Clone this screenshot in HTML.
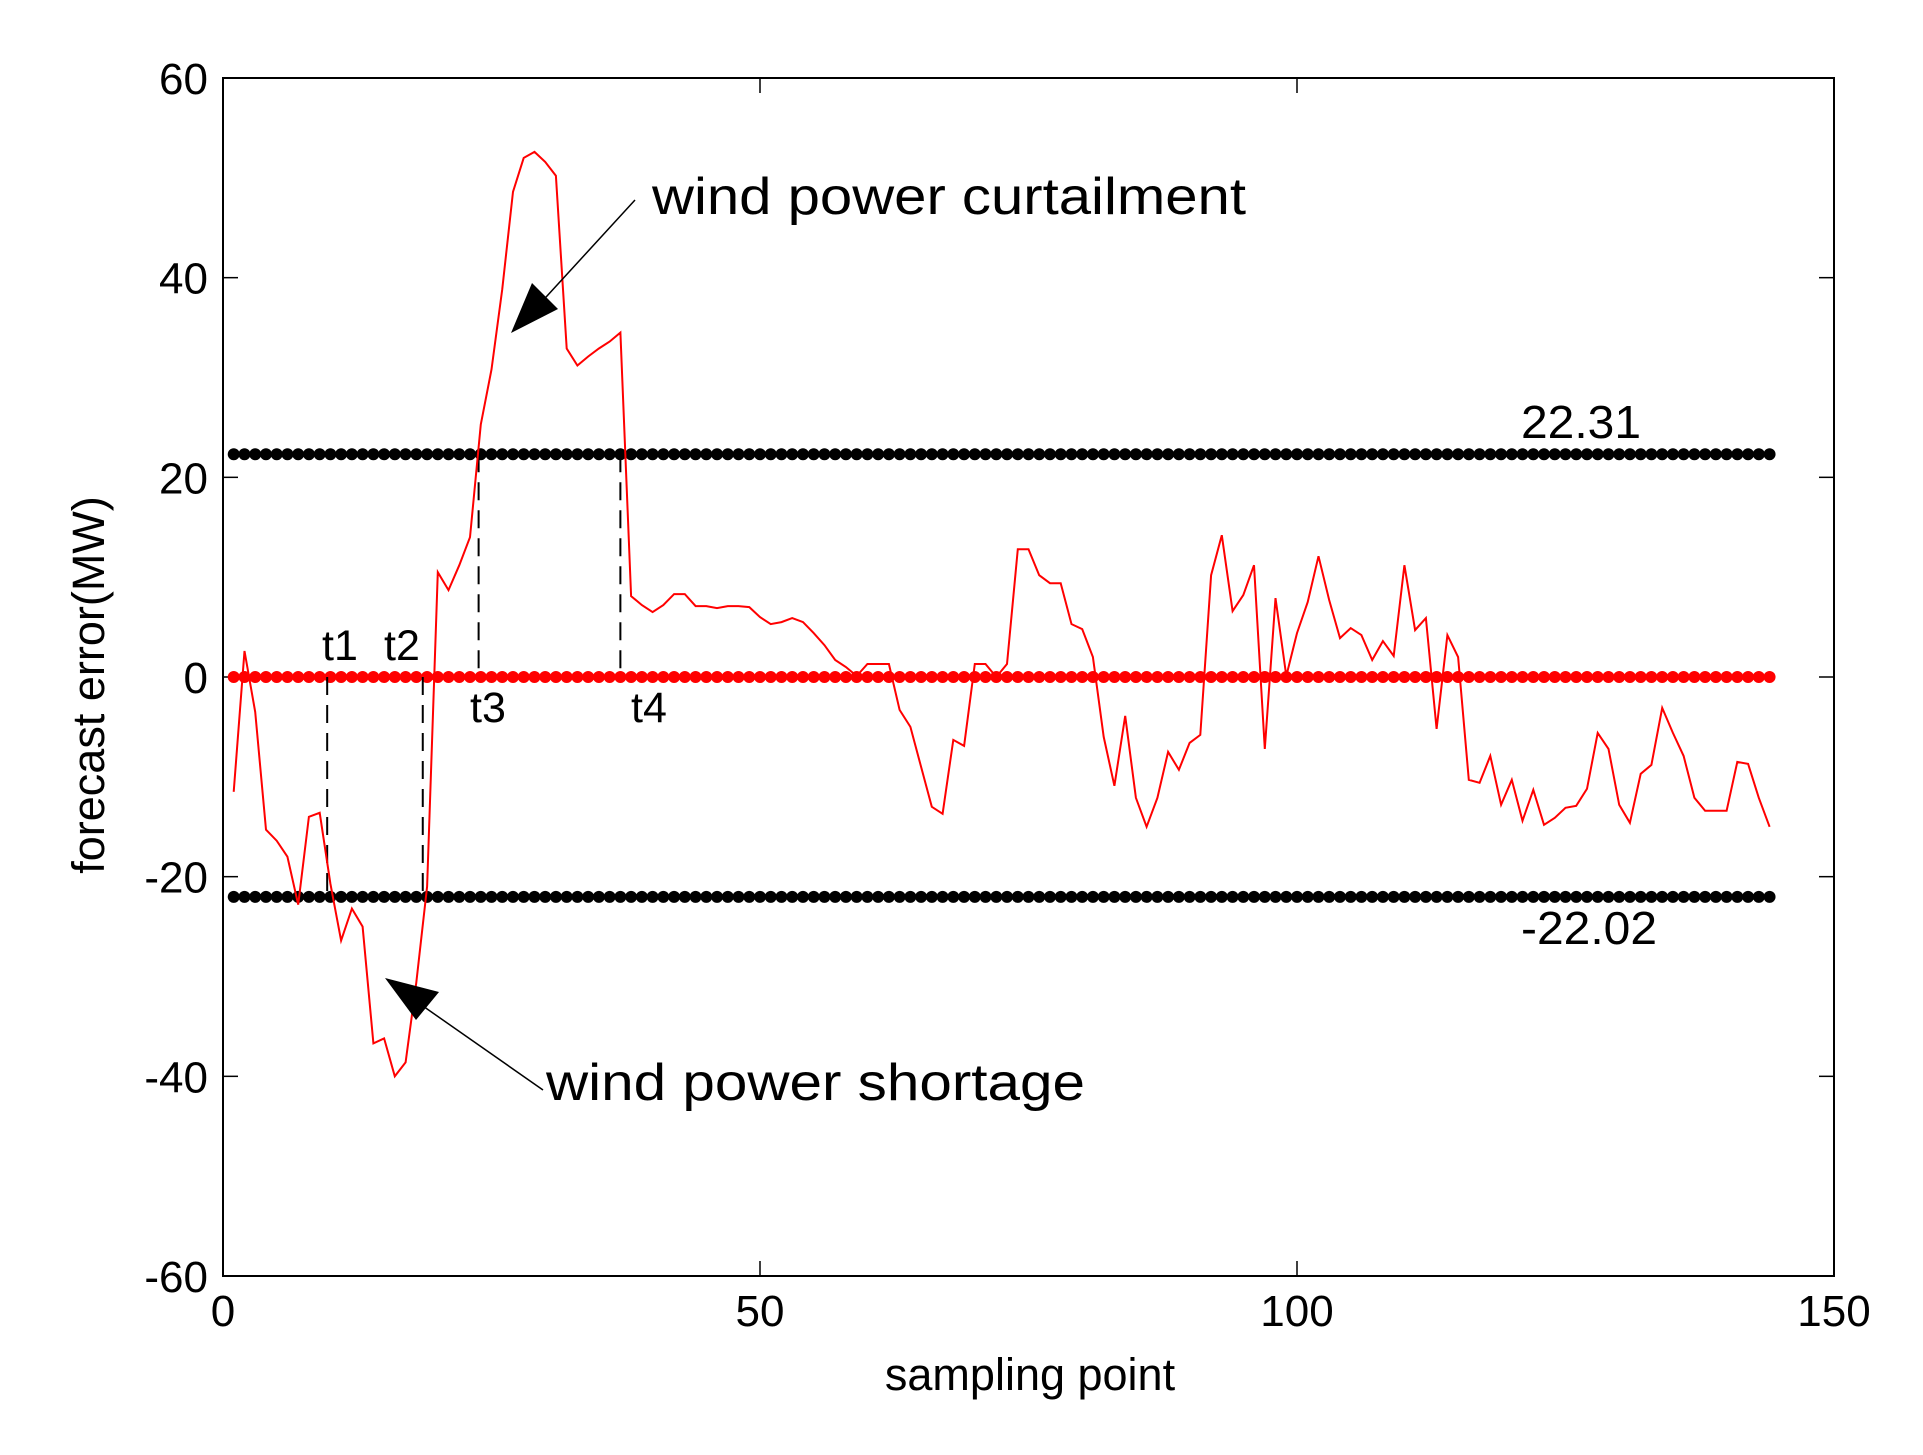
<!DOCTYPE html>
<html><head><meta charset="utf-8"><style>
html,body{margin:0;padding:0;background:#fff}
svg{display:block}
text{font-family:"Liberation Sans",Arial,sans-serif;fill:#000}
</style></head><body>
<svg id="chart" width="1923" height="1455" viewBox="0 0 1923 1455" xmlns="http://www.w3.org/2000/svg">
<rect x="0" y="0" width="1923" height="1455" fill="#fff"/>
<g id="axes"></g>
<g id="marks"></g>
<g id="annot">
<text x="652" y="214" font-size="52" textLength="594" lengthAdjust="spacingAndGlyphs">wind power curtailment</text>
<text x="546" y="1100" font-size="52" textLength="539" lengthAdjust="spacingAndGlyphs">wind power shortage</text>
<text x="1521" y="438" font-size="46" textLength="120" lengthAdjust="spacingAndGlyphs">22.31</text>
<text x="1521" y="944" font-size="46" textLength="136" lengthAdjust="spacingAndGlyphs">-22.02</text>
<text x="322" y="660" font-size="43">t1</text>
<text x="384" y="660" font-size="43">t2</text>
<text x="470" y="722" font-size="43">t3</text>
<text x="631" y="722" font-size="43">t4</text>
<line x1="635" y1="200" x2="525" y2="320" stroke="#000" stroke-width="1.5"/>
<polygon points="511,333 532,283 558,309" fill="#000"/>
<line x1="543" y1="1090" x2="400" y2="990" stroke="#000" stroke-width="1.5"/>
<polygon points="385,978 439,992 416,1020" fill="#000"/>
<text x="1030" y="1390" font-size="45" text-anchor="middle">sampling point</text>
<text transform="translate(104,685) rotate(-90)" font-size="45" text-anchor="middle">forecast error(MW)</text>
</g>
</svg>
<script>
const values = [-11.5,2.6,-3.5,-15.3,-16.4,-18,-22.8,-14,-13.6,-20.7,-26.4,-23.2,-25,-36.7,-36.2,-40,-38.6,-30.6,-21,10.5,8.7,11.2,14,25.3,30.8,38.8,48.6,52,52.6,51.6,50.2,32.9,31.2,32.1,32.9,33.6,34.5,8.1,7.2,6.5,7.2,8.3,8.3,7.1,7.1,6.9,7.1,7.1,7,6,5.3,5.5,5.9,5.5,4.4,3.2,1.7,1,0.1,1.3,1.3,1.3,-3.3,-5,-9,-13,-13.7,-6.3,-6.9,1.3,1.3,0,1.3,12.8,12.8,10.2,9.4,9.4,5.3,4.8,2,-6,-10.9,-3.9,-12.1,-15,-12.1,-7.5,-9.3,-6.6,-5.8,10.2,14.2,6.6,8.2,11.2,-7.2,7.9,0.1,4.4,7.5,12.1,7.7,3.9,4.9,4.2,1.7,3.6,2.1,11.2,4.7,5.9,-5.2,4.2,2,-10.3,-10.6,-7.9,-12.8,-10.3,-14.4,-11.3,-14.8,-14.1,-13.1,-12.9,-11.2,-5.6,-7.2,-12.8,-14.6,-9.7,-8.8,-3.1,-5.6,-7.9,-12.1,-13.4,-13.4,-13.4,-8.5,-8.7,-12.1,-15];
const upperThreshold = 22.31;
const lowerThreshold = -22.02;
const zeroLine = 0;
const markerVals = [
  {v: upperThreshold, c: '#000', n: 'upper-threshold-markers'},
  {v: zeroLine, c: '#f00', n: 'zero-line-markers'},
  {v: lowerThreshold, c: '#000', n: 'lower-threshold-markers'}
];
const tLines = [{x: 9.7, y0: 0, y1: lowerThreshold, n: 't1'}, {x: 18.6, y0: 0, y1: lowerThreshold, n: 't2'}, {x: 23.8, y0: upperThreshold, y1: 0, n: 't3'}, {x: 37, y0: upperThreshold, y1: 0, n: 't4'}];
const xTicks = [0, 50, 100, 150];
const yTicks = [-60, -40, -20, 0, 20, 40, 60];

const L = 223, R = 1834, T = 78, B = 1276;
const X = v => L + (v - 0) / 150 * (R - L);
const Y = v => B - (v + 60) / 120 * (B - T);
const NS = 'http://www.w3.org/2000/svg';
function mk(tag, parent, attrs) { const e = document.createElementNS(NS, tag); for (const k in attrs) e.setAttribute(k, attrs[k]); parent.appendChild(e); return e; }
const axes = document.getElementById('axes'), marks = document.getElementById('marks');

let box = mk('rect', axes, {x: L, y: T, width: R - L, height: B - T, fill: 'none', stroke: '#000', 'stroke-width': 2});


xTicks.forEach(t => {
  const x = X(t);
  let a = mk('line', axes, {x1: x, x2: x, y1: B, y2: B - 15, stroke: '#000', 'stroke-width': 1.5});
  
  
  let b = mk('line', axes, {x1: x, x2: x, y1: T, y2: T + 15, stroke: '#000', 'stroke-width': 1.5});
  
  
  let tx = mk('text', axes, {x: x, y: 1326, 'font-size': 44, 'text-anchor': 'middle'});
  tx.textContent = t;
  
  
});
yTicks.forEach(t => {
  const y = Y(t);
  let a = mk('line', axes, {x1: L, x2: L + 15, y1: y, y2: y, stroke: '#000', 'stroke-width': 1.5});
  
  
  let b = mk('line', axes, {x1: R, x2: R - 15, y1: y, y2: y, stroke: '#000', 'stroke-width': 1.5});
  
  
  let tx = mk('text', axes, {x: 208, y: y + 16, 'font-size': 44, 'text-anchor': 'end'});
  tx.textContent = t;
  
  
});
markerVals.forEach(m => {
  const g = mk('g', marks, {fill: m.c});
  
  
  for (let i = 1; i <= values.length; i++) {
    const c = mk('circle', g, {cx: X(i), cy: Y(m.v), r: 6});
    
    
  }
});
tLines.forEach(t => {
  const l = mk('line', marks, {x1: X(t.x), x2: X(t.x), y1: Y(t.y0), y2: Y(t.y1), stroke: '#000', 'stroke-width': 2, 'stroke-dasharray': '18,10'});
  
  
});
const pts = values.map((v, i) => X(i + 1).toFixed(1) + ',' + Y(v).toFixed(1)).join(' ');
const pl = mk('polyline', marks, {points: pts, fill: 'none', stroke: '#f00', 'stroke-width': 2});


</script>
</body></html>
